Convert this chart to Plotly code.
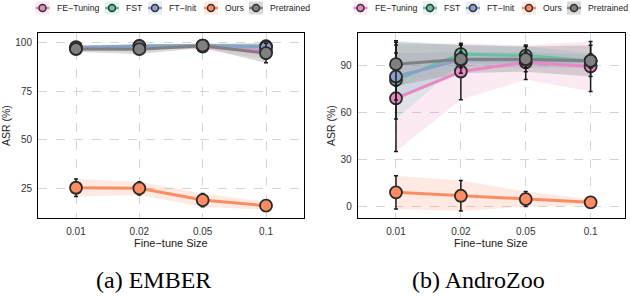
import plotly.graph_objects as go

# ---------------- data ----------------
sizes = ["0.01", "0.02", "0.05", "0.1"]
methods = ["FE−Tuning", "FST", "FT−Init", "Ours", "Pretrained"]

# EMBER (mean, sd)
ember_fe_mean = [97.0, 97.8, 97.8, 95.5]
ember_fe_sd = [1.0, 1.0, 1.5, 4.0]
ember_fst_mean = [97.2, 98.2, 98.3, 98.0]
ember_fst_sd = [1.0, 1.0, 1.0, 1.0]
ember_fti_mean = [97.5, 98.0, 98.3, 97.5]
ember_fti_sd = [1.0, 1.0, 1.0, 1.5]
ember_ours_mean = [25.5, 25.2, 19.2, 16.3]
ember_ours_sd = [4.5, 3.4, 3.4, 2.0]
ember_pre_mean = [96.6, 96.5, 98.3, 94.5]
ember_pre_sd = [1.5, 2.5, 1.0, 5.0]

# AndroZoo (mean, sd)
az_fe_mean = [69.3, 86.4, 92.3, 89.6]
az_fe_sd = [34.0, 18.0, 11.0, 16.0]
az_fst_mean = [81.0, 97.5, 96.6, 93.2]
az_fst_sd = [25.0, 6.0, 6.0, 4.5]
az_fti_mean = [83.2, 93.8, 93.8, 93.0]
az_fti_sd = [15.0, 5.0, 5.0, 4.0]
az_ours_mean = [9.2, 7.0, 4.9, 2.8]
az_ours_sd = [10.6, 9.7, 4.8, 2.0]
az_pre_mean = [91.1, 94.3, 94.3, 93.2]
az_pre_sd = [14.0, 9.0, 8.0, 10.0]

ember_ticks = [25, 50, 75, 100]
az_ticks = [0, 30, 60, 90]

# ---------------- styles ----------------
colors = {
    "FE−Tuning": (231, 138, 195),
    "FST": (102, 194, 165),
    "FT−Init": (141, 160, 203),
    "Ours": (252, 141, 98),
    "Pretrained": (128, 128, 128),
}
ribbon_alpha = {"FE−Tuning": 0.18, "FST": 0.18, "FT−Init": 0.18, "Ours": 0.18, "Pretrained": 0.3}


def rgb(c, a=1.0):
    return f"rgba({c[0]},{c[1]},{c[2]},{a})"


W, H = 630, 296
FONT = "Liberation Sans, Arial, sans-serif"

ember = {
    "FE−Tuning": (ember_fe_mean, ember_fe_sd),
    "FST": (ember_fst_mean, ember_fst_sd),
    "FT−Init": (ember_fti_mean, ember_fti_sd),
    "Ours": (ember_ours_mean, ember_ours_sd),
    "Pretrained": (ember_pre_mean, ember_pre_sd),
}
andro = {
    "FE−Tuning": (az_fe_mean, az_fe_sd),
    "FST": (az_fst_mean, az_fst_sd),
    "FT−Init": (az_fti_mean, az_fti_sd),
    "Ours": (az_ours_mean, az_ours_sd),
    "Pretrained": (az_pre_mean, az_pre_sd),
}

fig = go.Figure()


def add_panel(data, xa, ya):
    # ribbons
    for m in methods:
        mean, sd = data[m]
        up = [a + b for a, b in zip(mean, sd)]
        lo = [a - b for a, b in zip(mean, sd)]
        fig.add_trace(go.Scatter(x=sizes, y=up, mode="lines", line=dict(width=0),
                                 showlegend=False, hoverinfo="skip", xaxis=xa, yaxis=ya))
        fig.add_trace(go.Scatter(x=sizes, y=lo, mode="lines", line=dict(width=0),
                                 fill="tonexty", fillcolor=rgb(colors[m], ribbon_alpha[m]),
                                 showlegend=False, hoverinfo="skip", xaxis=xa, yaxis=ya))
    # lines + points + error bars
    for m in methods:
        mean, sd = data[m]
        fig.add_trace(go.Scatter(
            x=sizes, y=mean, mode="lines+markers", name=m, showlegend=False,
            line=dict(color=rgb(colors[m]), width=3),
            marker=dict(size=12, color=rgb(colors[m]), line=dict(color="#2a2a2a", width=1.8)),
            error_y=dict(type="data", array=sd, visible=True, color="#1a1a1a",
                         thickness=1.5, width=2),
            xaxis=xa, yaxis=ya))


add_panel(ember, "x", "y")
add_panel(andro, "x2", "y2")

# ---------------- axes ----------------
top_px, bot_px = 33, 218
ydom = [1 - bot_px / H, 1 - top_px / H]

axis_common = dict(
    showline=True, mirror=True, linecolor="black", linewidth=1,
    showgrid=True, gridcolor="#d4d4d4", gridwidth=1, griddash="dash",
    zeroline=False, ticks="outside", tickcolor="rgba(0,0,0,0)",
    tickfont=dict(family=FONT, size=10, color="#333333"),
)

fig.update_layout(
    xaxis=dict(domain=[38 / W, 304 / W], type="category", range=[-0.6, 3.6],
               anchor="y", ticklen=4, **axis_common),
    yaxis=dict(domain=ydom, range=[10, 104.8], tickvals=ember_ticks, anchor="x",
               ticklen=3, **axis_common),
    xaxis2=dict(domain=[357.7 / W, 625 / W], type="category", range=[-0.59, 3.53],
                anchor="y2", ticklen=4, **axis_common),
    yaxis2=dict(domain=ydom, range=[-7.2, 111], tickvals=az_ticks, anchor="x2",
                ticklen=3, **axis_common),
)

annotations = []
shapes = []


def px_x(x):
    return x / W


def px_y(y):
    return 1 - y / H


# axis titles
for cx in (171, 491):
    annotations.append(dict(x=px_x(cx), y=px_y(243), xref="paper", yref="paper",
                            text="Fine−tune Size", showarrow=False,
                            font=dict(family=FONT, size=11, color="#1a1a1a"),
                            xanchor="center", yanchor="middle"))
for cx in (6, 331):
    annotations.append(dict(x=px_x(cx), y=px_y(126), xref="paper", yref="paper",
                            text="ASR (%)", showarrow=False, textangle=-90,
                            font=dict(family=FONT, size=10.5, color="#1a1a1a"),
                            xanchor="center", yanchor="middle"))

# captions
for cx, txt in ((153, "(a) EMBER"), (478, "(b) AndroZoo")):
    annotations.append(dict(x=px_x(cx), y=px_y(280), xref="paper", yref="paper",
                            text=txt, showarrow=False,
                            font=dict(family="Liberation Serif, Times New Roman, serif",
                                      size=24, color="black"),
                            xanchor="center", yanchor="middle"))

# manual legends
legend_key_x = [42.5, 112, 155, 211, 256]
for offset in (0, 318):
    for m, kx in zip(methods, legend_key_x):
        cx = kx + offset
        cy = 8
        c = colors[m]
        shapes.append(dict(type="rect", xref="paper", yref="paper",
                           x0=px_x(cx - 7), x1=px_x(cx + 7), y0=px_y(cy + 6.5), y1=px_y(cy - 6.5),
                           fillcolor=rgb(c, ribbon_alpha[m]), line=dict(width=0), layer="above"))
        shapes.append(dict(type="line", xref="paper", yref="paper",
                           x0=px_x(cx - 7), x1=px_x(cx + 7), y0=px_y(cy), y1=px_y(cy),
                           line=dict(color=rgb(c), width=2.5), layer="above"))
        shapes.append(dict(type="circle", xref="paper", yref="paper",
                           x0=px_x(cx - 3.5), x1=px_x(cx + 3.5), y0=px_y(cy + 3.5), y1=px_y(cy - 3.5),
                           fillcolor=rgb(c), line=dict(color="#333333", width=1.5), layer="above"))
        annotations.append(dict(x=px_x(cx + 12), y=px_y(cy), xref="paper", yref="paper",
                                text=m, showarrow=False,
                                font=dict(family=FONT, size=8.7, color="#1a1a1a"),
                                xanchor="left", yanchor="middle"))

fig.update_layout(
    width=W, height=H, margin=dict(l=0, r=0, t=0, b=0),
    paper_bgcolor="white", plot_bgcolor="white",
    showlegend=False, annotations=annotations, shapes=shapes,
)

fig.write_html("out.html", config={"displayModeBar": False},
               post_script="document.body.style.margin='0';document.body.style.overflow='hidden';")
